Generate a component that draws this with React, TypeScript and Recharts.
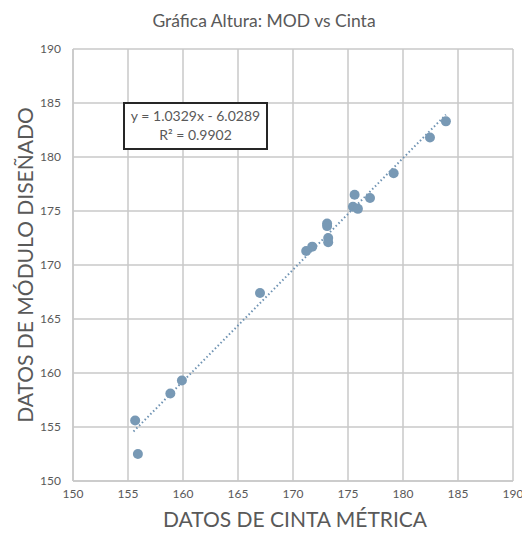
import { CartesianGrid, Scatter, ScatterChart, XAxis, YAxis } from 'recharts'

// cinta (x) vs módulo (y)
const cinta = [183.9, 182.45, 179.15, 175.6, 177.0, 175.45, 175.9, 173.1, 173.1, 173.2, 173.2, 171.75, 171.2, 167.0, 159.9, 158.85, 155.65, 155.9]
const modulo = [183.3, 181.8, 178.5, 176.5, 176.2, 175.4, 175.2, 173.85, 173.6, 172.5, 172.1, 171.7, 171.3, 167.4, 159.3, 158.1, 155.6, 152.5]

const ticks = [150, 155, 160, 165, 170, 175, 180, 185, 190]
const slope = 1.0329
const intercept = -6.0289
const trendX = [155.5, 183.9]

const points = cinta.map((x, i) => ({ x, y: modulo[i] }))
const trend = trendX.map((x) => ({ x, y: slope * x + intercept }))

const font = 'Lato, "Open Sans", sans-serif'
const gray = '#595959'
const gridColor = '#c8c8c8'
const frame = { stroke: gridColor, strokeWidth: 1.5 }

function YLabel({ viewBox }: any) {
  const cx = 24
  const cy = viewBox.y + viewBox.height / 2
  return (
    <text x={cx} y={cy} transform={`rotate(-90 ${cx} ${cy})`} textAnchor="middle" dominantBaseline="central" fill={gray} fontSize={21} fontFamily={font}>
      DATOS DE MÓDULO DISEÑADO
    </text>
  )
}

export default function App() {
  return (
    <div style={{ position: 'absolute', left: 0, top: 0, width: 522, height: 535, background: '#fff', fontFamily: font }}>
      <div style={{ position: 'absolute', top: 10, left: 0, width: 528, textAlign: 'center', fontSize: 17.5, color: gray }}>
        Gráfica Altura: MOD vs Cinta
      </div>
      <ScatterChart width={522} height={535} margin={{ top: 49, right: 9, bottom: 0, left: 0 }}>
        <CartesianGrid stroke={gridColor} strokeWidth={1.5} />
        <XAxis
          type="number"
          dataKey="x"
          domain={[150, 190]}
          ticks={ticks}
          height={54}
          axisLine={frame}
          tickLine={false}
          tick={{ fill: gray, fontSize: 12, fontFamily: font }}
          tickMargin={2}
          label={{ value: 'DATOS DE CINTA MÉTRICA', position: 'insideBottom', offset: 8, dx: 2, fill: gray, fontSize: 21, fontFamily: font }}
        />
        <XAxis xAxisId="top" orientation="top" type="number" dataKey="x" domain={[150, 190]} ticks={ticks} height={0} axisLine={frame} tickLine={false} tick={false} />
        <YAxis
          type="number"
          dataKey="y"
          domain={[150, 190]}
          ticks={ticks}
          width={73}
          axisLine={frame}
          tickLine={false}
          tick={{ fill: gray, fontSize: 12, fontFamily: font }}
          tickMargin={6}
          label={<YLabel />}
        />
        <YAxis yAxisId="right" orientation="right" type="number" dataKey="y" domain={[150, 190]} ticks={ticks} width={0} axisLine={frame} tickLine={false} tick={false} />
        <Scatter data={trend} line={{ stroke: '#6f93b3', strokeWidth: 2, strokeDasharray: '1.5 2.5' }} shape={() => null} isAnimationActive={false} />
        <Scatter data={points} fill="#7899b5" shape={(p: any) => <circle cx={p.cx} cy={p.cy} r={5} fill="#7899b5" />} isAnimationActive={false} />
      </ScatterChart>
      <div
        style={{
          position: 'absolute',
          left: 123,
          top: 102,
          width: 141,
          height: 42,
          border: '2px solid #262626',
          background: '#fff',
          color: gray,
          fontSize: 14,
          lineHeight: '19px',
          textAlign: 'center',
          paddingTop: 2,
        }}
      >
        y = 1.0329x - 6.0289
        <br />
        R² = 0.9902
      </div>
    </div>
  )
}
